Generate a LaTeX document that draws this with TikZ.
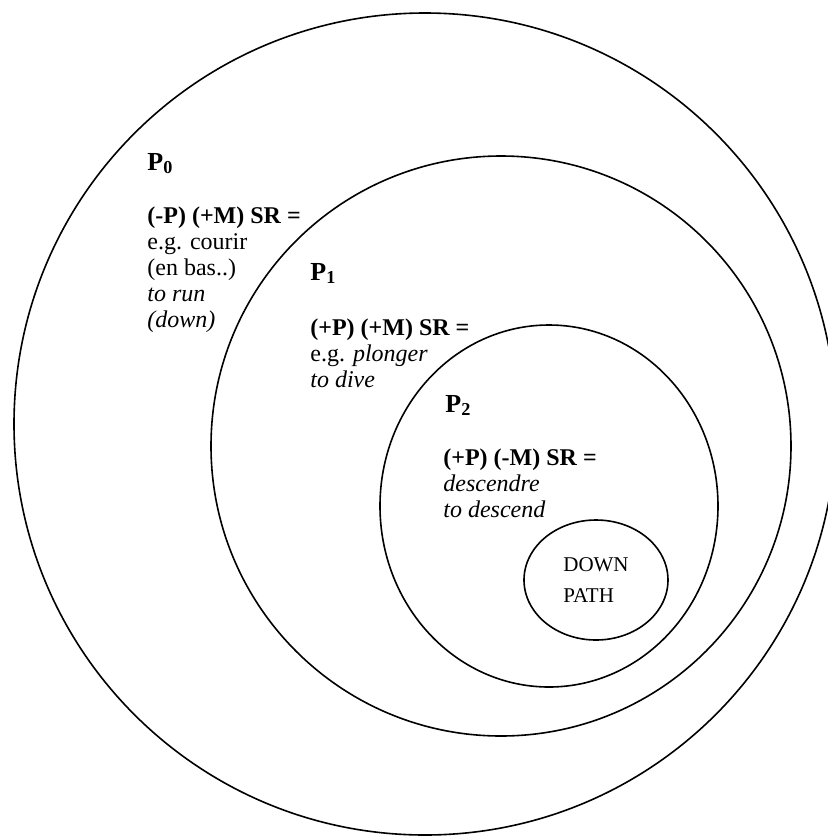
\documentclass[tikz,border=0pt]{standalone}
\usepackage{fontspec}
\setmainfont{Liberation Serif}
\usetikzlibrary{positioning, shapes.geometric}
\tikzset{
  ring/.style  = {draw, line width=0.8pt, inner sep=0pt},
  plab/.style  = {anchor=base west, inner sep=0pt,
                  font=\fontsize{13}{14}\selectfont\bfseries},
  lab/.style   = {anchor=base west, inner sep=0pt, align=left,
                  font=\fontsize{12}{13}\selectfont},
}

\begin{document}
\begin{tikzpicture}[x=0.5pt, y=-0.5pt]
\useasboundingbox (0,0) rectangle (827,837);

% Nested regions, outer to inner
\node (ring0) [ring, circle, minimum size=411pt] at (425,424) {};
\node (ring1) [ring, circle, minimum size=290pt] at (501,446) {};
\node (ring2) [ring, ellipse, minimum width=169pt, minimum height=181pt] at (549,506) {};
\node (path) [ring, ellipse, minimum width=72pt, minimum height=60pt, align=left,
  font=\fontsize{10.5}{15.5}\selectfont] at (596,580) {DOWN\\PATH};

% Labels of each region (placed at the baseline of their last line)
\node (p0) [plab] at (147,170) {P\textsubscript{0}};
\node (sr0) [lab] at (147,327) {\textbf{(-P) (+M) SR =}\\e.g. courir\\(en bas..)\\
  \textit{to run}\\\textit{(down)}};

\node (p1) [plab] at (310,280) {P\textsubscript{1}};
\node (sr1) [lab] at (310,387) {\textbf{(+P) (+M) SR =}\\e.g. \textit{plonger}\\
  \textit{to dive}};

\node (p2) [plab] at (445,412) {P\textsubscript{2}};
\node (sr2) [lab] at (443,517) {\textbf{(+P) (-M) SR =}\\\textit{descendre}\\
  \textit{to descend}};

\end{tikzpicture}
\end{document}
